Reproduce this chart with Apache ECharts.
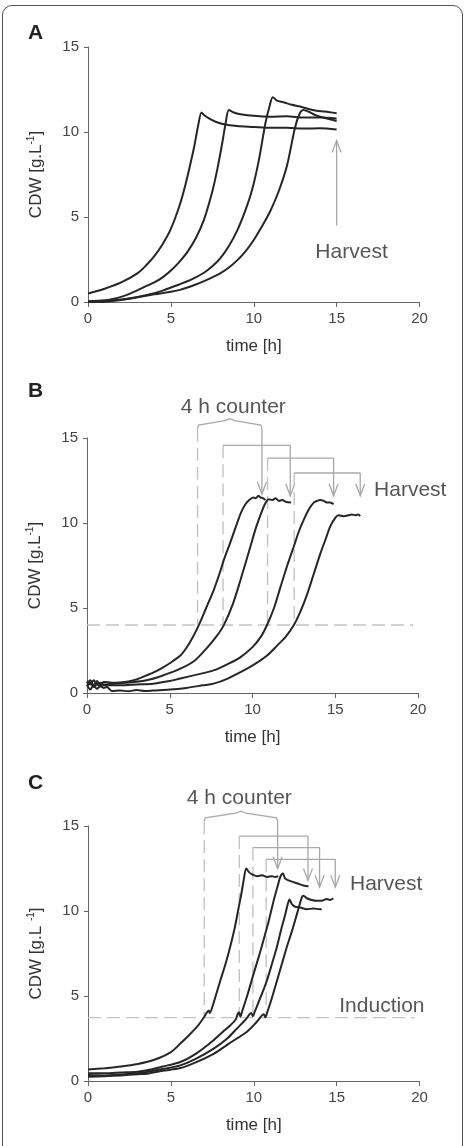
<!DOCTYPE html>
<html>
<head>
<meta charset="utf-8">
<script src="https://cdn.jsdelivr.net/npm/echarts@6/dist/echarts.min.js"></script>
<style>
  html, body { margin: 0; padding: 0; background: #fff; }
  #frame {
    position: absolute; left: 2px; top: 5px; width: 461px; height: 1170px;
    border: 1.5px solid #555; border-radius: 10px; box-sizing: border-box;
  }
  #chart { position: absolute; left: 0; top: 0; width: 465px; height: 1146px; }
</style>
</head>
<body>
<div id="frame"></div>
<div id="chart"></div>
<script>
// ---- data: [time h, CDW g/L] ----
const curveA1 = [[0,0.5],[1,0.78],[2,1.15],[3,1.7],[3.5,2.15],[4,2.7],[4.5,3.4],[5,4.3],[5.5,5.6],[5.8,6.6],[6.1,7.8],[6.4,9.1],[6.65,10.4],[6.85,11.15],[7.0,11.0],[7.3,10.8],[7.7,10.6],[8.2,10.45],[9,10.35],[10,10.3],[11,10.25],[12,10.25],[13,10.2],[14,10.22],[15,10.15]];
const curveA2 = [[0,0.05],[1,0.1],[1.5,0.18],[2,0.3],[2.5,0.48],[3,0.7],[3.5,0.93],[4,1.15],[4.5,1.45],[5,1.85],[5.5,2.35],[6,2.95],[6.5,3.75],[7,4.85],[7.5,6.5],[7.8,7.8],[8.1,9.35],[8.3,10.5],[8.5,11.3],[8.8,11.15],[9.2,11.05],[10,10.95],[11,10.9],[12,10.92],[13,10.85],[14,10.85],[15,10.8]];
const curveA3 = [[0,0.03],[1,0.05],[2,0.15],[3,0.3],[4,0.52],[4.5,0.67],[5,0.85],[5.5,1.03],[6,1.22],[6.5,1.45],[7,1.72],[7.5,2.1],[8,2.6],[8.5,3.3],[9,4.2],[9.5,5.4],[9.9,6.6],[10.3,8.3],[10.7,10.5],[10.95,11.5],[11.15,12.05],[11.4,11.85],[11.8,11.75],[12.3,11.6],[12.8,11.5],[13.3,11.35],[13.8,11.25],[14.3,11.2],[15,11.1]];
const curveA4 = [[0,0.0],[1,0.02],[2,0.12],[3,0.28],[4,0.45],[5,0.6],[5.5,0.7],[6,0.85],[6.5,1.03],[7,1.23],[7.5,1.45],[8,1.7],[8.5,2.03],[9,2.45],[9.5,2.98],[10,3.65],[10.5,4.45],[11,5.35],[11.5,6.5],[12,8.0],[12.5,10.3],[12.8,11.15],[13.0,11.3],[13.3,11.2],[13.7,11.0],[14.2,10.85],[14.6,10.75],[15,10.65]];

const curveB1 = [[0,0.55],[0.2,0.75],[0.4,0.45],[0.6,0.7],[0.8,0.5],[1,0.65],[1.5,0.6],[2,0.62],[2.5,0.68],[3,0.8],[3.6,1.04],[4,1.2],[4.5,1.45],[5,1.75],[5.64,2.2],[6,2.65],[6.4,3.3],[6.75,3.98],[7.2,5.0],[7.65,6.04],[8,7.0],[8.26,7.8],[8.6,8.7],[9.06,9.96],[9.3,10.6],[9.57,11.1],[9.8,11.35],[10.07,11.5],[10.2,11.45],[10.35,11.6],[10.5,11.5],[10.65,11.45],[10.78,11.35]];
const curveB2 = [[0,0.7],[0.2,0.5],[0.4,0.75],[0.6,0.55],[0.8,0.6],[1,0.5],[1.6,0.55],[2.5,0.62],[3.6,0.75],[4.5,1.0],[5.64,1.43],[6.5,1.9],[7.2,2.6],[7.8,3.3],[8.26,3.98],[8.8,5.2],[9.26,6.6],[9.87,8.6],[10.2,9.7],[10.57,10.7],[10.8,11.2],[10.98,11.4],[11.2,11.35],[11.4,11.45],[11.6,11.3],[11.8,11.35],[12.0,11.25],[12.33,11.2]];
const curveB3 = [[0,0.4],[0.2,0.6],[0.4,0.35],[0.6,0.5],[0.8,0.4],[1,0.45],[2,0.45],[3,0.5],[4,0.55],[5,0.7],[5.64,0.85],[6.5,1.05],[7.65,1.33],[8.5,1.7],[9.26,2.1],[10,2.7],[10.5,3.3],[10.88,4.0],[11.3,5.0],[11.68,6.2],[12.1,7.5],[12.49,8.6],[12.8,9.5],[13.1,10.2],[13.4,10.8],[13.7,11.2],[13.9,11.3],[14.1,11.35],[14.3,11.3],[14.5,11.2],[14.7,11.2],[14.9,11.1]];
const curveB4 = [[0,0.5],[0.2,0.2],[0.4,0.45],[0.6,0.25],[0.8,0.4],[1,0.3],[1.2,0.35],[1.5,0.12],[2,0.15],[2.5,0.1],[3,0.18],[3.5,0.12],[4,0.15],[5,0.2],[6,0.3],[7,0.45],[7.65,0.55],[8.5,0.85],[9.67,1.43],[10.3,1.8],[10.88,2.2],[11.5,2.8],[12,3.3],[12.49,3.98],[12.9,4.8],[13.3,5.8],[13.7,7.0],[14.1,8.2],[14.4,9.0],[14.7,9.8],[15.0,10.3],[15.2,10.45],[15.5,10.4],[15.8,10.45],[16.0,10.5],[16.2,10.45],[16.4,10.5],[16.5,10.4]];

const curveC1 = [[0,0.67],[1,0.75],[2,0.85],[3,1.0],[4,1.25],[5,1.7],[5.57,2.2],[6,2.6],[6.57,3.18],[7.0,3.75],[7.15,4.0],[7.28,4.15],[7.35,4.0],[7.5,4.35],[7.98,5.9],[8.3,6.9],[8.58,7.9],[8.85,9.0],[9.09,10.2],[9.25,11.0],[9.39,11.8],[9.55,12.5],[9.7,12.3],[9.9,12.15],[10.2,12.05],[10.5,12.1],[10.8,12.0],[11.1,12.05],[11.3,12.0],[11.48,12.05]];
const curveC2 = [[0,0.45],[1,0.45],[2,0.5],[3,0.55],[3.56,0.63],[4.5,0.85],[5.57,1.12],[6.5,1.6],[7.58,2.4],[8.2,2.95],[8.58,3.27],[8.9,3.6],[9.1,4.05],[9.2,3.8],[9.3,4.1],[9.6,5.0],[9.99,6.3],[10.3,7.3],[10.59,8.3],[10.9,9.4],[11.2,10.6],[11.45,11.5],[11.6,12.0],[11.76,12.2],[11.9,11.9],[12.1,11.8],[12.4,11.7],[12.7,11.6],[13.0,11.5],[13.3,11.45]];
const curveC3 = [[0,0.35],[1,0.33],[2,0.38],[3,0.45],[3.56,0.53],[4.5,0.7],[5.57,0.92],[6.5,1.3],[7.58,1.9],[8.4,2.5],[8.98,3.08],[9.5,3.6],[9.85,4.0],[9.95,3.8],[10.05,4.05],[10.4,4.9],[10.79,5.9],[11.1,6.9],[11.4,7.9],[11.65,8.9],[11.9,9.8],[12.05,10.4],[12.16,10.67],[12.3,10.4],[12.5,10.25],[12.8,10.2],[13.2,10.1],[13.6,10.15],[14.0,10.1],[14.1,10.1]];
const curveC4 = [[0,0.25],[1,0.28],[2,0.33],[3,0.4],[3.56,0.43],[4.5,0.6],[5.57,0.76],[6.5,1.1],[7.58,1.6],[8.5,2.2],[9.59,2.9],[10.2,3.5],[10.6,3.92],[10.7,3.75],[10.8,4.0],[11.1,4.9],[11.4,5.9],[11.7,6.9],[12.0,7.9],[12.3,8.8],[12.6,9.8],[12.9,10.8],[13.0,10.9],[13.2,10.75],[13.5,10.65],[13.8,10.6],[14.1,10.6],[14.4,10.7],[14.6,10.65],[14.8,10.75]];

// annotations
const harvestArrowA = [15, 4.5, 9.5];          // t, from, to
const inductionB = 4.0, inductionC = 3.73;
const counterStartB = [6.68, 8.22, 10.91, 12.52];
const harvestB = [10.57, 12.28, 14.9, 16.51];
const bracketTopB = [15.55, 14.57, 13.82, 12.94];
const arrowTipB = [11.7, 11.6, 11.6, 11.6];
const counterStartC = [7.01, 9.13, 9.95, 10.75];
const harvestC = [11.44, 13.27, 13.97, 14.92];
const bracketTopC = [15.28, 14.41, 13.73, 13.04];
const arrowTipC = [12.49, 11.8, 11.4, 11.4];

const xTicks = [0, 20, 5];   // min, max, interval
const yTicks = [0, 15, 5];

const FONT = "'Liberation Sans', Arial, sans-serif";
const LINE = '#262626';
const GRAY = '#a8a8a8';
const DASH = '#c4c4c4';

const chart = echarts.init(document.getElementById('chart'));

const grids = [
  { left: 88, top: 47, width: 331.5, height: 255 },
  { left: 87, top: 438, width: 331, height: 255 },
  { left: 88, top: 826, width: 331.5, height: 255 },
];

const yNames = ['{n|CDW [g.L}{s|-1}{n|]}', '{n|CDW [g.L}{s|-1}{n|]}', '{n|CDW [g.L }{s|-1}{n|]}'];

const xAxes = grids.map((g, i) => ({
  type: 'value', gridIndex: i, min: xTicks[0], max: xTicks[1], interval: xTicks[2],
  name: 'time [h]', nameLocation: 'middle', nameGap: 36,
  nameTextStyle: { fontFamily: FONT, fontSize: 17, color: '#333' },
  axisLine: { lineStyle: { color: '#666', width: 1 } },
  axisTick: { show: true, length: 5, lineStyle: { color: '#666' } },
  axisLabel: { fontFamily: FONT, fontSize: 15, color: '#444', margin: 9 },
  splitLine: { show: false },
}));

const yAxes = grids.map((g, i) => ({
  type: 'value', gridIndex: i, min: yTicks[0], max: yTicks[1], interval: yTicks[2],
  name: yNames[i], nameLocation: 'middle', nameGap: 42, nameRotate: 90,
  nameTextStyle: {
    rich: {
      n: { fontFamily: FONT, fontSize: 17, color: '#333', lineHeight: 20 },
      s: { fontFamily: FONT, fontSize: 10, color: '#333', lineHeight: 20, verticalAlign: 'top', padding: [0, 0, 9, 0] },
    },
  },
  axisLine: { show: true, lineStyle: { color: '#666', width: 1 } },
  axisTick: { show: true, length: 4, lineStyle: { color: '#666' } },
  axisLabel: { fontFamily: FONT, fontSize: 15, color: '#444', margin: 9 },
  splitLine: { show: false },
}));

const curveSeries = (data, i) => ({
  type: 'line', xAxisIndex: i, yAxisIndex: i, data,
  showSymbol: false, symbol: 'none', smooth: 0.3, silent: true,
  lineStyle: { color: LINE, width: 2 }, z: 5,
});

const hline = (level, i) => ({
  type: 'line', xAxisIndex: i, yAxisIndex: i, data: [[0, level], [19.7, level]],
  showSymbol: false, symbol: 'none', silent: true,
  lineStyle: { color: DASH, width: 1.4, type: [13, 6] }, z: 2,
});

// arrow head, open V
function arrowHead(x, y, dir) {
  return {
    type: 'polyline',
    shape: { points: [[x - 4.5, y - 12 * dir], [x, y], [x + 4.5, y - 12 * dir]] },
    style: { stroke: GRAY, fill: null, lineWidth: 1.3 },
  };
}

function renderBracket(params, api) {
  const t0 = api.value(0), t1 = api.value(1), top = api.value(2), tip = api.value(3), base = api.value(4);
  const pBase = api.coord([t0, base]);
  const pL = api.coord([t0, top]);
  const pR = api.coord([t1, top]);
  const pTip = api.coord([t1, tip]);
  const children = [
    { type: 'line', shape: { x1: pL[0], y1: pL[1], x2: pBase[0], y2: pBase[1] },
      style: { stroke: DASH, lineWidth: 1.4, lineDash: [13, 6] } },
    { type: 'line', shape: { x1: pR[0], y1: pR[1], x2: pTip[0], y2: pTip[1] },
      style: { stroke: GRAY, lineWidth: 1.3 } },
    arrowHead(pTip[0], pTip[1], 1),
  ];
  if (params.dataIndex === 0) {
    // curly brace under the "4 h counter" label
    const y = pL[1], xm = (pL[0] + pR[0]) / 2;
    children.push({
      type: 'polyline',
      shape: { points: [[pL[0], y], [pL[0] + 1, y - 3.5], [xm - 5, y - 8], [xm, y - 10], [xm + 5, y - 8], [pR[0] - 1, y - 3.5], [pR[0], y]] },
      style: { stroke: GRAY, fill: null, lineWidth: 1.3 },
    });
  } else {
    children.push({ type: 'line', shape: { x1: pL[0], y1: pL[1], x2: pR[0], y2: pR[1] },
      style: { stroke: GRAY, lineWidth: 1.3 } });
  }
  return { type: 'group', children };
}

const bracketSeries = (starts, ends, tops, tips, base, i) => ({
  type: 'custom', xAxisIndex: i, yAxisIndex: i, silent: true, clip: false, z: 3,
  data: starts.map((s, k) => [s, ends[k], tops[k], tips[k], base]),
  renderItem: renderBracket,
});

const harvestArrowSeries = {
  type: 'custom', xAxisIndex: 0, yAxisIndex: 0, silent: true, z: 3,
  data: [harvestArrowA],
  renderItem: (params, api) => {
    const p0 = api.coord([api.value(0), api.value(1)]);
    const p1 = api.coord([api.value(0), api.value(2)]);
    return { type: 'group', children: [
      { type: 'line', shape: { x1: p0[0], y1: p0[1], x2: p1[0], y2: p1[1] }, style: { stroke: GRAY, lineWidth: 1.3 } },
      arrowHead(p1[0], p1[1], -1),
    ] };
  },
};

const textSeries = (items, i) => ({
  type: 'scatter', xAxisIndex: i, yAxisIndex: i, symbolSize: 0, silent: true, clip: false,
  data: items.map(d => ({ name: d[0], value: [d[1], d[2]] })),
  label: { show: true, formatter: '{b}', position: [0, 0], align: 'center', verticalAlign: 'middle',
    fontFamily: FONT, fontSize: 21, color: '#2a2a2a' },
});

chart.setOption({
  animation: false,
  grid: grids,
  xAxis: xAxes,
  yAxis: yAxes,
  graphic: ['A', 'B', 'C'].map((s, i) => ({
    type: 'text', left: 28, top: [23, 381, 773][i],
    style: { text: s, font: "bold 21px 'Liberation Sans', Arial, sans-serif", fill: '#222' },
  })),
  series: [
    ...[curveA1, curveA2, curveA3, curveA4].map(d => curveSeries(d, 0)),
    ...[curveB1, curveB2, curveB3, curveB4].map(d => curveSeries(d, 1)),
    ...[curveC1, curveC2, curveC3, curveC4].map(d => curveSeries(d, 2)),
    harvestArrowSeries,
    hline(inductionB, 1),
    hline(inductionC, 2),
    bracketSeries(counterStartB, harvestB, bracketTopB, arrowTipB, inductionB, 1),
    bracketSeries(counterStartC, harvestC, bracketTopC, arrowTipC, inductionC, 2),
    textSeries([['Harvest', 15.9, 2.92]], 0),
    textSeries([['Harvest', 19.53, 11.9], ['4 h counter', 8.84, 16.8]], 1),
    textSeries([['Harvest', 17.99, 11.6], ['Induction', 17.73, 4.39], ['4 h counter', 9.13, 16.65]], 2),
  ],
});
</script>
</body>
</html>
